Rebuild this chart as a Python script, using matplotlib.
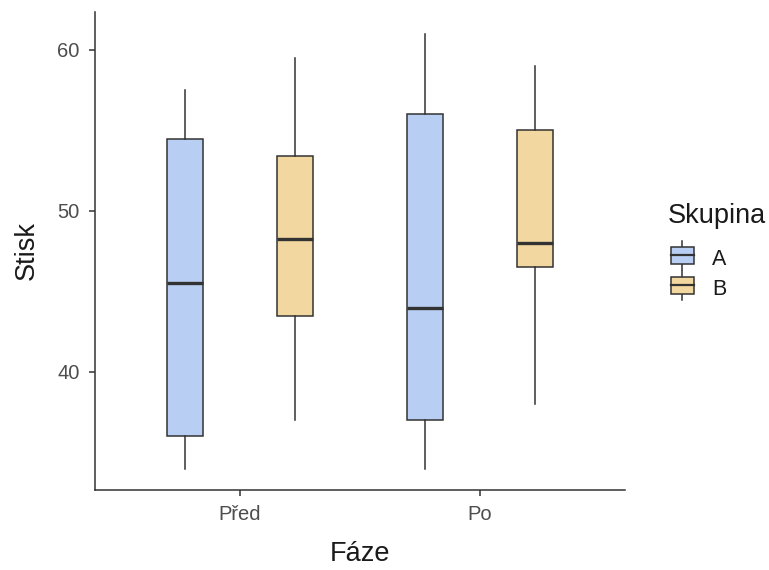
import numpy as np
import matplotlib.pyplot as plt
from matplotlib.legend_handler import HandlerBase
from matplotlib.patches import Rectangle, Patch
from matplotlib.lines import Line2D

plt.rcParams['font.family'] = ['Liberation Sans', 'DejaVu Sans']

# data (whisker low, q1, median, q3, whisker high)
faze = ["Před", "Po"]
skupiny = ["A", "B"]
barvy = {"A": "#b8cff3", "B": "#f2d7a0"}

a_stats = [[34.0, 36.0, 45.5, 54.5, 57.5],
           [34.0, 37.0, 44.0, 56.0, 61.0]]
b_stats = [[37.0, 43.5, 48.25, 53.4, 59.5],
           [38.0, 46.5, 48.0, 55.0, 59.0]]
data = {"A": a_stats, "B": b_stats}

edge = "#333333"
fig = plt.figure(figsize=(7.69, 5.70), dpi=100)
ax = fig.add_axes([95/769, 80/570, 530/769, 478/570])

offs = {"A": -0.23, "B": 0.23}
for g in skupiny:
    st = []
    for s in data[g]:
        st.append(dict(whislo=s[0], q1=s[1], med=s[2], q3=s[3], whishi=s[4], fliers=[]))
    pos = np.arange(1, len(faze) + 1) + offs[g]
    ax.bxp(st, positions=pos, widths=0.15, patch_artist=True, showcaps=False,
           boxprops=dict(facecolor=barvy[g], edgecolor=edge, linewidth=1.1),
           whiskerprops=dict(color=edge, linewidth=1.1),
           medianprops=dict(color=edge, linewidth=2.4),
           manage_ticks=False)

ax.set_xlim(0.396, 2.604)
ax.set_ylim(32.67, 62.36)
ax.set_xticks([1, 2])
ax.set_xticklabels(faze)
ax.set_yticks([40, 50, 60])
for sp in ["top", "right"]:
    ax.spines[sp].set_visible(False)
for sp in ["left", "bottom"]:
    ax.spines[sp].set_color(edge)
    ax.spines[sp].set_linewidth(1.1)
ax.tick_params(colors=edge, labelcolor="#4d4d4d", labelsize=14.5, length=4, width=1.1)
ax.tick_params(axis="x", pad=7)
ax.tick_params(axis="y", pad=7)
ax.set_xlabel("Fáze", fontsize=19.5, color="#1a1a1a", labelpad=12)
ax.set_ylabel("Stisk", fontsize=19.5, color="#1a1a1a", labelpad=13)


class BoxHandler(HandlerBase):
    def create_artists(self, legend, orig, xd, yd, w, h, fs, trans):
        fc = orig.get_facecolor()
        cx = xd + w / 2
        r = Rectangle((xd + w * 0.03, yd), w * 0.94, h,
                      facecolor=fc, edgecolor=edge, lw=1.1, transform=trans)
        m = Line2D([xd + w * 0.03, xd + w * 0.97], [yd + h / 2, yd + h / 2],
                   color=edge, lw=1.6, transform=trans)
        t = Line2D([cx, cx], [yd + h, yd + h * 1.35], color=edge, lw=1.1, transform=trans)
        b = Line2D([cx, cx], [yd - h * 0.35, yd], color=edge, lw=1.1, transform=trans)
        return [t, b, r, m]


fig.text(668/769, 1 - 216/570, "Skupina", fontsize=19.5, color="#1a1a1a",
         ha="left", va="center")

handles = [Patch(facecolor=barvy[g]) for g in skupiny]
leg = fig.legend(handles, skupiny, loc="upper left", bbox_to_anchor=(670/769, 1 - 249/570),
                 frameon=False, fontsize=15.5, borderpad=0, borderaxespad=0,
                 handler_map={Patch: BoxHandler()}, handlelength=1.15, handleheight=0.85,
                 handletextpad=0.8, labelspacing=0.42)
for t in leg.get_texts():
    t.set_color("#1a1a1a")

fig.savefig("out.png", dpi=100)
